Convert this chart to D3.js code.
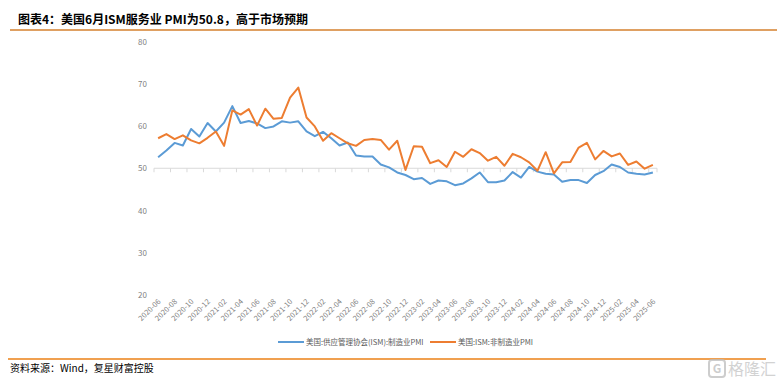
<!DOCTYPE html>
<html>
<head>
<meta charset="utf-8">
<script src="https://cdn.jsdelivr.net/npm/d3@7"></script>
<style>
  body { margin: 0; background: #fff; }
  svg { display: block; font-family: "Noto Sans CJK SC", "Noto Sans", sans-serif; }
</style>
</head>
<body>
<div id="chart"></div>
<script>
// months 2020-06 .. 2025-06
const months = [];
for (let y = 2020; y <= 2025; y++) {
  for (let m = 1; m <= 12; m++) {
    if ((y === 2020 && m < 6) || (y === 2025 && m > 6)) continue;
    months.push(y + '-' + String(m).padStart(2, '0'));
  }
}

// ISM manufacturing PMI (blue)
const mfgPMI = [
  52.6, 54.2, 56.0, 55.4, 59.3, 57.5, 60.7,
  58.7, 60.8, 64.7, 60.7, 61.2, 60.6, 59.5, 59.9, 61.1, 60.8, 61.1, 58.7,
  57.6, 58.6, 57.1, 55.4, 56.1, 53.0, 52.8, 52.8, 50.9, 50.2, 49.0, 48.4,
  47.4, 47.7, 46.3, 47.1, 46.9, 46.0, 46.4, 47.6, 49.0, 46.7, 46.7, 47.1,
  49.1, 47.8, 50.3, 49.2, 48.7, 48.5, 46.8, 47.2, 47.2, 46.5, 48.4, 49.3,
  50.9, 50.3, 49.0, 48.7, 48.5, 49.0
];

// ISM non-manufacturing PMI (orange)
const servPMI = [
  57.1, 58.1, 56.9, 57.8, 56.6, 55.9, 57.2,
  58.7, 55.3, 63.7, 62.7, 64.0, 60.1, 64.1, 61.7, 61.9, 66.7, 69.1, 62.0,
  59.9, 56.5, 58.3, 57.1, 55.9, 55.3, 56.7, 56.9, 56.7, 54.4, 56.5, 49.6,
  55.2, 55.1, 51.2, 51.9, 50.3, 53.9, 52.7, 54.5, 53.6, 51.8, 52.7, 50.6,
  53.4, 52.6, 51.4, 49.4, 53.8, 48.8, 51.4, 51.5, 54.9, 56.0, 52.1, 54.1,
  52.8, 53.5, 50.8, 51.6, 49.9, 50.8
];

const yTicks = [20, 30, 40, 50, 60, 70, 80];
const seriesNames = ['美国:供应管理协会(ISM):制造业PMI', '美国:ISM:非制造业PMI'];
const seriesColors = ['#5B9BD5', '#ED7D31'];

const W = 781, H = 384;
const svg = d3.select('#chart').append('svg')
  .attr('width', W).attr('height', H);

// title
svg.append('text')
  .attr('x', 18).attr('y', 24)
  .attr('font-size', 12).attr('font-weight', 'bold').attr('fill', '#000')
  .text('图表4：美国6月ISM服务业 PMI为50.8，高于市场预期');
svg.append('line')
  .attr('x1', 10).attr('x2', 777).attr('y1', 30).attr('y2', 30)
  .attr('stroke', '#DFA062').attr('stroke-width', 2);

const x = d3.scaleBand().domain(months).range([154, 657]);
const y = d3.scaleLinear().domain([20, 80]).range([295, 41.5]);
const cx = d => x(d) + x.bandwidth() / 2;

// y labels
svg.append('g').selectAll('text').data(yTicks).join('text')
  .attr('x', 147).attr('y', d => y(d) + 3)
  .attr('text-anchor', 'end').attr('font-size', 8).attr('fill', '#7f7f7f')
  .text(d => d);

// category axis drawn at 50
const y50 = y(50);
svg.append('line')
  .attr('x1', 154).attr('x2', 657).attr('y1', y50).attr('y2', y50)
  .attr('stroke', '#D9D9D9').attr('stroke-width', 1);
const tickIdx = months.map((m, i) => i).filter(i => i % 2 === 0);
svg.append('g').selectAll('line').data(tickIdx.concat([months.length])).join('line')
  .attr('x1', i => 154 + i * x.step()).attr('x2', i => 154 + i * x.step())
  .attr('y1', y50).attr('y2', y50 + 4)
  .attr('stroke', '#D9D9D9').attr('stroke-width', 1);

// x labels at bottom, rotated
svg.append('g').selectAll('text').data(tickIdx).join('text')
  .attr('transform', i => `translate(${cx(months[i]) + 3},${302}) rotate(-45)`)
  .attr('text-anchor', 'end').attr('font-size', 7.5).attr('fill', '#7f7f7f')
  .text(i => months[i]);

// lines
const line = d3.line().x((d, i) => cx(months[i])).y(d => y(d));
[mfgPMI, servPMI].forEach((s, k) => {
  svg.append('path').datum(s)
    .attr('d', line)
    .attr('fill', 'none')
    .attr('stroke', seriesColors[k])
    .attr('stroke-width', 2)
    .attr('stroke-linejoin', 'round');
});

// legend
const legendX = [278, 430];
seriesNames.forEach((n, k) => {
  const g = svg.append('g').attr('transform', `translate(${legendX[k]},342)`);
  g.append('line').attr('x1', 0).attr('x2', 26).attr('y1', 0).attr('y2', 0)
    .attr('stroke', seriesColors[k]).attr('stroke-width', 2);
  g.append('text').attr('x', 28).attr('y', 3)
    .attr('font-size', 7.5).attr('fill', '#595959').text(n);
});

// footer
svg.append('line')
  .attr('x1', 8).attr('x2', 766).attr('y1', 359).attr('y2', 359)
  .attr('stroke', '#F0A050').attr('stroke-width', 2);
svg.append('text')
  .attr('x', 10).attr('y', 372)
  .attr('font-size', 10).attr('fill', '#000')
  .text('资料来源：Wind，复星财富控股');

// watermark
const wm = svg.append('g').attr('transform', 'translate(709,359)').attr('opacity', 0.75);
wm.append('rect').attr('x', 0).attr('y', 1).attr('width', 16).attr('height', 17).attr('rx', 3)
  .attr('fill', 'none').attr('stroke', '#bdbdbd').attr('stroke-width', 2);
wm.append('text').attr('x', 8).attr('y', 14).attr('text-anchor', 'middle')
  .attr('font-size', 12).attr('font-weight', 'bold').attr('fill', '#bdbdbd').text('G');
wm.append('text').attr('x', 19).attr('y', 16)
  .attr('font-size', 16).attr('fill', '#c4c4c4').text('格隆汇');
</script>
</body>
</html>
